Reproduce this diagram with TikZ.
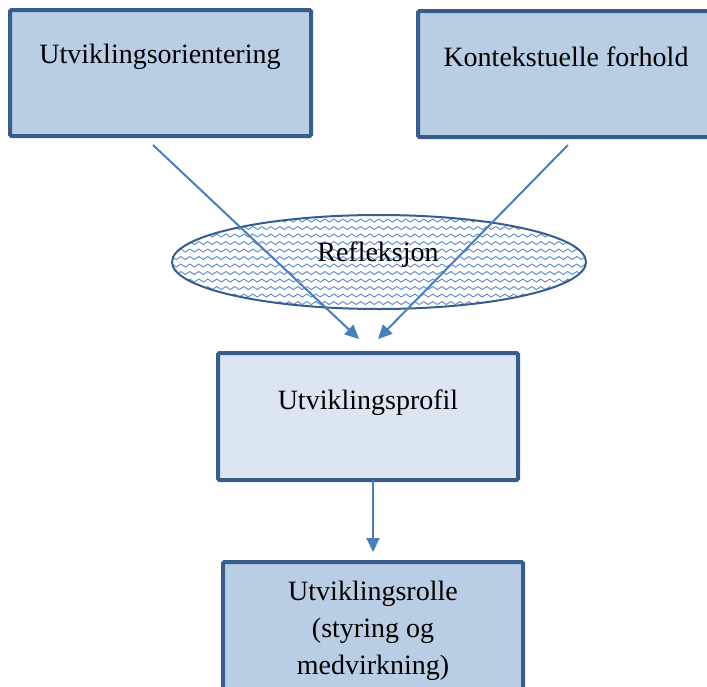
\documentclass[tikz,border=0pt]{standalone}
\usepackage{fontspec}
\setmainfont{Liberation Serif}
\usetikzlibrary{arrows.meta,decorations.pathmorphing,calc}
\definecolor{bordc}{HTML}{385D8A}
\definecolor{fillA}{HTML}{B9CDE5}
\definecolor{fillB}{HTML}{DCE6F2}
\definecolor{arrc}{HTML}{4A7EBB}
\definecolor{wavec}{HTML}{5A8AC8}
\begin{document}
\begin{tikzpicture}[x=1pt,y=-1pt,
  boxA/.style={draw=bordc,line width=4pt,fill=fillA,rounded corners=1.5pt,inner sep=0pt},
  boxB/.style={draw=bordc,line width=4pt,fill=fillB,rounded corners=1.5pt,inner sep=0pt},
  lbl/.style={font=\fontsize{28}{37}\selectfont,inner sep=0pt,align=center},
  conn/.style={draw=arrc,line width=2pt,-{Triangle[length=14pt,width=13pt]}}]
\useasboundingbox (0,0) rectangle (707,686);
\clip (0,0) rectangle (707,686);
% boxes
\draw[boxA] (10,10) rectangle (311,136);
\node[lbl] (t1) at (160,57) {Utviklingsorientering};
\draw[boxA] (418,11) rectangle (714,137);
\node[lbl] (t2) at (566,57) {Kontekstuelle forhold};
\draw[boxB] (218,353) rectangle (518,480);
\coordinate (pS) at (373,480);
\node[lbl] (t3) at (368,403) {Utviklingsprofil};
\draw[boxA] (223,562) rectangle (523,700);
\node[lbl] (t4) at (373,631) {Utviklingsrolle\\(styring og\\medvirkning)};
% ellipse with wave pattern
\begin{scope}
  \clip (379,262) ellipse [x radius=207, y radius=47];
  \fill[white] (379,262) ellipse [x radius=207, y radius=47];
  \foreach \yy in {213,220.5,...,313}{
    \draw[wavec,line width=0.9pt,decorate,decoration={snake,segment length=9pt,amplitude=1.5pt}] (160,\yy) -- (600,\yy);
  }
\end{scope}
\draw[bordc,line width=2pt] (379,262) ellipse [x radius=207, y radius=47];
\node[lbl] (refl) at (378,255) {Refleksjon};
% connectors
\coordinate (s1) at (153,145);
\coordinate (s2) at (568,145);
\coordinate (e1) at (359,339);
\coordinate (e2) at (378,339);
\draw[conn] (s1) -- (e1);
\draw[conn] (s2) -- (e2);
\coordinate (e3) at (373,552);
\draw[conn] (pS) -- (e3);
\end{tikzpicture}
\end{document}
